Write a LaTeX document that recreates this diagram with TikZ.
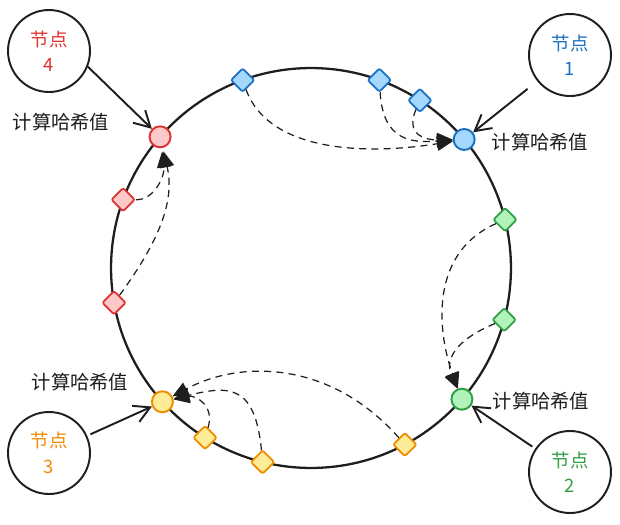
\documentclass[tikz,border=0pt]{standalone}
\usepackage{fontspec}
\setmainfont{Noto Sans CJK SC}
\usepackage{tikz}
\usetikzlibrary{arrows.meta,shapes,calc}
\definecolor{inkBlack}  {RGB}{30,  30,  30}
\definecolor{redInk}    {RGB}{224, 49,  49}
\definecolor{redFill}   {RGB}{255,201, 201}
\definecolor{blueInk}   {RGB}{25, 113, 194}
\definecolor{blueFill}  {RGB}{165,216, 255}
\definecolor{greenInk}  {RGB}{47, 158,  68}
\definecolor{greenFill} {RGB}{178,242, 187}
\definecolor{yellowInk} {RGB}{240,140,   0}
\definecolor{yellowFill}{RGB}{255,236, 153}

\begin{document}
\begin{tikzpicture}[x=0.02cm,y=-0.02cm,
    hashpt/.style={circle,draw,line width=1.1pt,minimum size=0.42cm,inner sep=0pt},
    vnode/.style={diamond,draw,line width=1pt,minimum size=0.48cm,inner sep=0pt,rounded corners=1.2pt},
    server/.style={circle,draw=inkBlack,line width=1.1pt,minimum size=1.64cm,inner sep=0pt,
                   align=center,font=\fontsize{10.5}{14.5}\selectfont},
    hashlbl/.style={inkBlack,font=\fontsize{11}{13}\selectfont},
    handArr/.style={-{Straight Barb[length=9pt,width=10pt]},inkBlack,line width=1.1pt},
    dashArr/.style={-{Triangle[length=9pt,width=8pt]},inkBlack,line width=0.7pt,
                    dash pattern=on 4pt off 3pt}]
  \useasboundingbox (0,0) rectangle (620,525);

  % hash ring
  \node[circle,draw=inkBlack,line width=1.3pt,minimum size=8cm,outer sep=0pt] (ring) at (311,268) {};

  % hash positions of the servers
  \node[hashpt,draw=redInk,fill=redFill]       (h4) at (ring.139.5) {};
  \node[hashpt,draw=blueInk,fill=blueFill]     (h1) at (ring.40.9) {};
  \node[hashpt,draw=greenInk,fill=greenFill]   (h2) at (ring.-41.7) {};
  \node[hashpt,draw=yellowInk,fill=yellowFill] (h3) at (ring.-138.8) {};

  % keys on the ring
  \foreach \nm/\ang in {b1/110.5, b2/70, b3/57.2}{
    \node[vnode,draw=blueInk,fill=blueFill] (\nm) at (ring.\ang) {};
  }
  \foreach \nm/\ang in {r1/160, r2/-170.5}{
    \node[vnode,draw=redInk,fill=redFill] (\nm) at (ring.\ang) {};
  }
  \foreach \nm/\ang in {g1/14.3, g2/-15.4}{
    \node[vnode,draw=greenInk,fill=greenFill] (\nm) at (ring.\ang) {};
  }
  \foreach \nm/\ang in {y1/-122.8, y2/-104.9, y3/-62.6}{
    \node[vnode,draw=yellowInk,fill=yellowFill] (\nm) at (ring.\ang) {};
  }

  % servers
  \node[server,text=redInk]    (n4) at (49,51)  {节点\\4};
  \node[server,text=blueInk]   (n1) at (570,55) {节点\\1};
  \node[server,text=yellowInk] (n3) at (49,453) {节点\\3};
  \node[server,text=greenInk]  (n2) at (570,472){节点\\2};

  \node[hashlbl] (lbl4) at (61,122)  {计算哈希值};
  \node[hashlbl] (lbl1) at (540,142) {计算哈希值};
  \node[hashlbl] (lbl3) at (80,382)  {计算哈希值};
  \node[hashlbl] (lbl2) at (541,401) {计算哈希值};

  \draw[handArr] (n4.-22) -- (h4);
  \draw[handArr,shorten <=7pt] (n1) -- (h1);
  \draw[handArr,shorten <=2pt] (n3) -- (h3);
  \draw[handArr,shorten <=2pt] (n2) -- (h2);

  % keys go clockwise to the next server
  \draw[dashArr] (b1) .. controls (268,150) and (360,156) .. (h1);
  \draw[dashArr] (b2) .. controls (383,140) and (410,143) .. (h1);
  \draw[dashArr] (b3) .. controls (405,135) and (425,140) .. (h1);

  \draw[dashArr] (g1) .. controls (425,255) and (440,340) .. (h2);
  \draw[dashArr] (g2) .. controls (455,340) and (445,360) .. (h2);

  \draw[dashArr] (y3) .. controls (330,360) and (240,360) .. (h3);
  \draw[dashArr] (y2) .. controls (255,385) and (230,385) .. (h3);
  \draw[dashArr] (y1) .. controls (215,405) and (195,395) .. (h3);

  \draw[dashArr,shorten >=2pt] (r1) .. controls (155,200) and (165,175) .. (h4);
  \draw[dashArr,shorten >=2pt] (r2) .. controls (160,240) and (175,200) .. (h4);
\end{tikzpicture}
\end{document}
